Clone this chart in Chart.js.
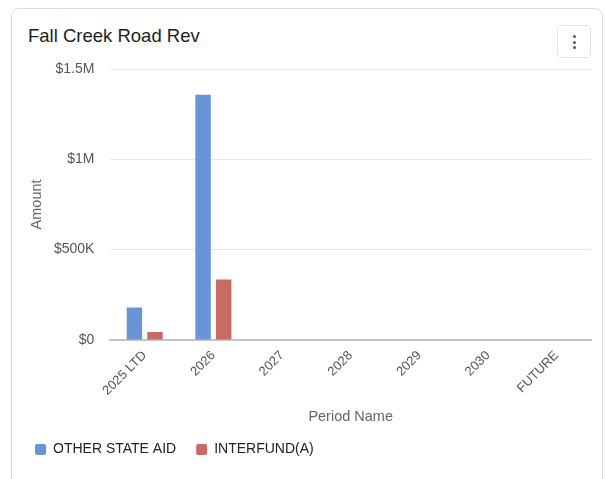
<!DOCTYPE html>
<html>
<head>
<meta charset="utf-8">
<script src="https://cdn.jsdelivr.net/npm/chart.js@4.4.1/dist/chart.umd.min.js"></script>
<style>
  html, body { margin: 0; padding: 0; background: #fff; }
  body { width: 605px; height: 479px; position: relative; overflow: hidden; font-family: "Liberation Sans", Arial, sans-serif; }
  .card { position: absolute; left: 11px; top: 8px; width: 592px; height: 500px; border: 1px solid #dcdcdc; border-radius: 8px; box-sizing: border-box; }
  .title { position: absolute; left: 28px; top: 25px; font-size: 18.5px; line-height: 22px; color: #1e1e1e; }
  .menu { position: absolute; left: 557px; top: 25px; width: 34px; height: 33px; border: 1px solid #e2e2e2; border-radius: 5px; box-sizing: border-box; }
  .menu span { position: absolute; left: 15px; width: 3px; height: 3px; border-radius: 50%; background: #555; }
  .wrap { position: absolute; left: 0; top: 0; width: 605px; height: 479px; }
</style>
</head>
<body>
<div class="card"></div>
<div class="title">Fall Creek Road Rev</div>
<div class="menu"><span style="top:9px"></span><span style="top:14.5px"></span><span style="top:20px"></span></div>
<div class="wrap"><canvas id="revChart"></canvas></div>
<script>
const periods = ["2025 LTD", "2026", "2027", "2028", "2029", "2030", "FUTURE"];
const otherStateAid = [180000, 1358000, 0, 0, 0, 0, 0];
const interfund = [43000, 334000, 0, 0, 0, 0, 0];

function money(v) {
  if (v >= 1000000) return "$" + (v / 1000000) + "M";
  if (v >= 1000) return "$" + (v / 1000) + "K";
  return "$" + v;
}

const fontFamily = '"Liberation Sans", Arial, sans-serif';

new Chart(document.getElementById("revChart"), {
  type: "bar",
  data: {
    labels: periods,
    datasets: [
      { label: "OTHER STATE AID", data: otherStateAid, backgroundColor: "#6a94d8" },
      { label: "INTERFUND(A)", data: interfund, backgroundColor: "#c96a65" }
    ]
  },
  options: {
    responsive: true,
    maintainAspectRatio: false,
    animation: false,
    categoryPercentage: 0.6,
    barPercentage: 0.75,
    layout: { padding: { top: 69, left: 15, right: 14, bottom: 12.5 } },
    plugins: {
      tooltip: { enabled: false },
      legend: {
        position: "bottom",
        align: "start",
        labels: {
          boxWidth: 11,
          boxHeight: 11,
          useBorderRadius: true,
          borderRadius: 2,
          padding: 20,
          color: "#222",
          font: { size: 14, family: fontFamily }
        }
      }
    },
    scales: {
      x: {
        grid: { display: false, drawTicks: false },
        border: { color: "#c4c4c4", width: 2 },
        ticks: { color: "#555", maxRotation: 45, minRotation: 45, padding: 8, font: { size: 13, family: fontFamily } },
        title: { display: true, text: "Period Name", color: "#666", padding: { top: 2, bottom: -3.5 }, font: { size: 14.5, family: fontFamily } }
      },
      y: {
        min: 0,
        max: 1500000,
        grid: { color: "#e8e8e8", drawTicks: false },
        border: { display: false },
        ticks: { stepSize: 500000, color: "#555", padding: 16, callback: money, font: { size: 14, family: fontFamily } },
        title: { display: true, text: "Amount", color: "#666", padding: { top: 13.5, bottom: -8 }, font: { size: 14.5, family: fontFamily } }
      }
    }
  }
});
</script>
</body>
</html>
